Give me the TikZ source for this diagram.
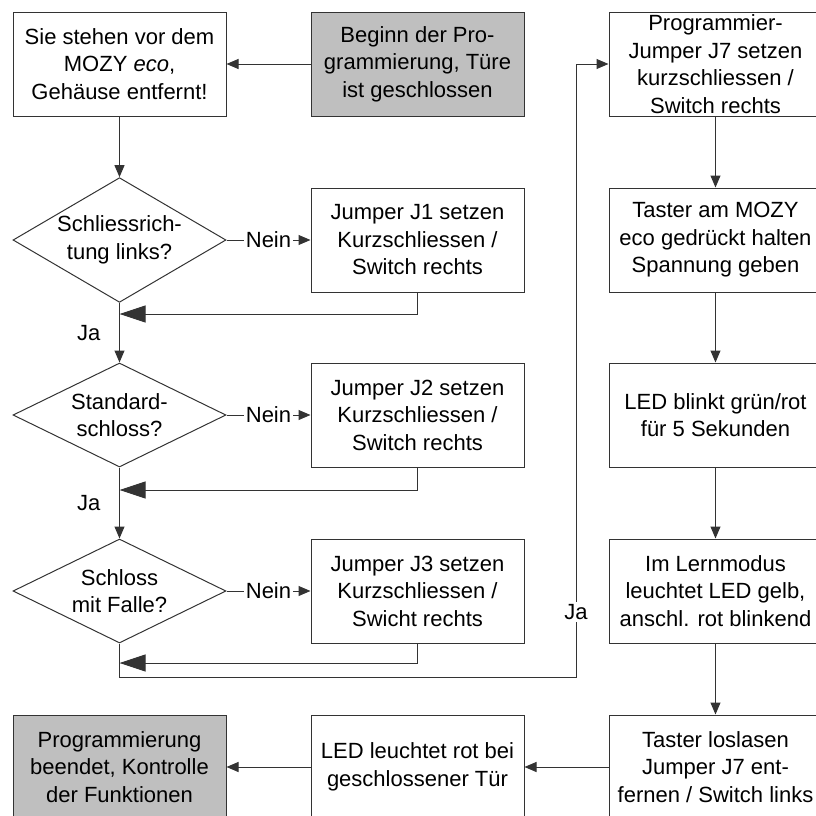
\documentclass[tikz,border=0pt]{standalone}
\usepackage{fontspec}
\setmainfont{Liberation Sans}
\usetikzlibrary{shapes.geometric,arrows.meta}

\begin{document}
\begin{tikzpicture}[x=0.5pt,y=-0.5pt,line width=0.5pt,
        every node/.style={font=\fontsize{11}{13.75}\selectfont},
        box/.style={draw=black!80,rectangle,minimum width=106.5pt,minimum height=52pt,inner sep=0pt,align=center},
        greybox/.style={box,fill=black!25},
        ask/.style={draw=black!80,diamond,minimum width=106.5pt,minimum height=52pt,inner sep=-6pt,align=center},
        arr/.style={draw=black!80,-{Triangle[length=6pt,width=5pt]}},
        back/.style={draw=black!80,-{Triangle[length=13pt,width=8.5pt]}},
        lbl/.style={fill=white,inner sep=1pt}]
        \clip (0,0) rectangle (816,816);
        % left and middle column
        \node[box] (start) at (119.5,64) {Sie stehen vor dem\\MOZY \textit{eco},\\Geh\"ause entfernt!};
        \node[greybox] (begin) at (417.5,64) {Beginn der Pro-\\grammierung, T\"ure\\ist geschlossen};
        \node[ask] (q1) at (119.5,240) {Schliessrich-\\tung links?};
        \node[box] (j1) at (417.5,240) {Jumper J1 setzen\\Kurzschliessen /\\Switch rechts};
        \node[ask] (q2) at (119.5,415) {Standard-\\schloss?};
        \node[box] (j2) at (417.5,415) {Jumper J2 setzen\\Kurzschliessen /\\Switch rechts};
        \node[ask] (q3) at (119.5,591) {Schloss\\mit Falle?};
        \node[box] (j3) at (417.5,591) {Jumper J3 setzen\\Kurzschliessen /\\Swicht rechts};
        \node[greybox] (finish) at (119.5,767) {Programmierung\\beendet, Kontrolle\\der Funktionen};
        \node[box] (led) at (417.5,767) {LED leuchtet rot bei\\geschlossener T\"ur};
        % right column
        \node[box] (p1) at (715.5,64) {Programmier-\\Jumper J7 setzen\\kurzschliessen /\\Switch rechts};
        \node[box] (p2) at (715.5,240) {Taster am MOZY\\eco gedr\"uckt halten\\Spannung geben};
        \node[box] (p3) at (715.5,415) {LED blinkt gr\"un/rot\\f\"ur 5 Sekunden};
        \node[box] (p4) at (715.5,591) {Im Lernmodus\\leuchtet LED gelb,\\anschl. rot blinkend};
        \node[box] (p5) at (715.5,767) {Taster loslasen\\Jumper J7 ent-\\fernen / Switch links};
        % bends
        \coordinate (r1) at (119.5,314);
        \coordinate (r2) at (119.5,490);
        \coordinate (r3) at (119.5,663);
        \coordinate (bend) at (576,677);
        % connectors
        \draw[arr] (begin) -- (start);
        \draw[arr] (start) -- (q1);
        \draw[arr] (q1) -- node[lbl] {Nein} (j1);
        \draw[back] (j1.south) |- (r1);
        \draw[arr] (q1) -- node[left=6pt] {Ja} (q2);
        \draw[arr] (q2) -- node[lbl] {Nein} (j2);
        \draw[back] (j2.south) |- (r2);
        \draw[arr] (q2) -- node[left=6pt] {Ja} (q3);
        \draw[arr] (q3) -- node[lbl] {Nein} (j3);
        \draw[back] (j3.south) |- (r3);
        \draw[arr] (q3.south) |- (bend) |- node[lbl,pos=0.053] {Ja} (p1.west);
        \draw[arr] (p1) -- (p2);
        \draw[arr] (p2) -- (p3);
        \draw[arr] (p3) -- (p4);
        \draw[arr] (p4) -- (p5);
        \draw[arr] (p5) -- (led);
        \draw[arr] (led) -- (finish);
    \end{tikzpicture}
\end{document}
